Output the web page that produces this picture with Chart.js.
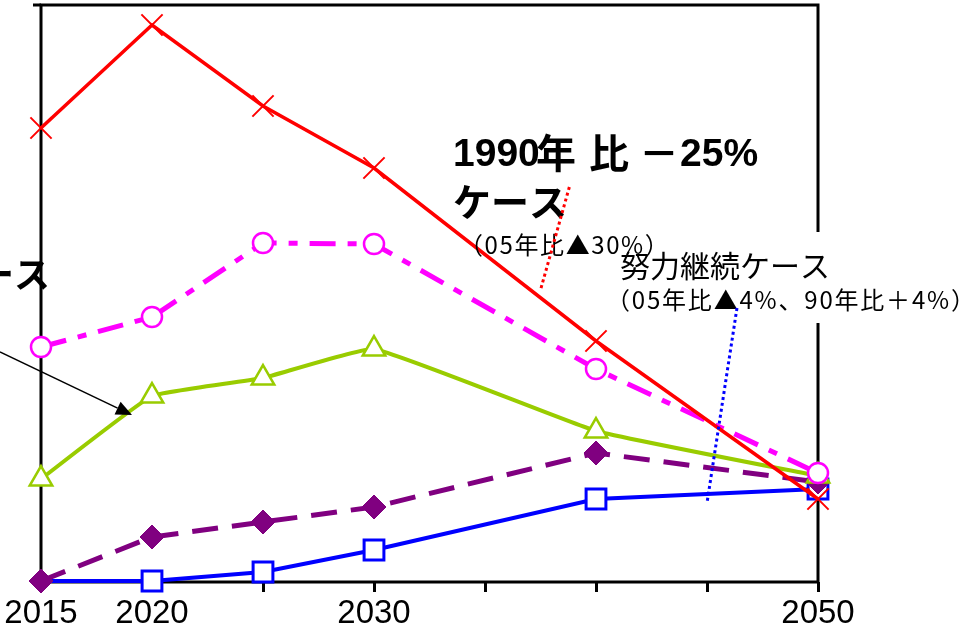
<!DOCTYPE html>
<html><head><meta charset="utf-8">
<script src="https://cdn.jsdelivr.net/npm/chart.js@4/dist/chart.umd.min.js"></script>
<style>html,body{margin:0;padding:0;background:#fff;overflow:hidden}#wrap{width:967px;height:630px;position:relative}</style>
</head><body><div id="wrap"><canvas id="c" width="967" height="630"></canvas></div>
<script>
// ---- data (arbitrary index units) ----
const years = [2015, 2020, 2025, 2030, 2040, 2050];
const tickLabels = ['2015', '2020', '2030', '2050'];
const caseMinus25 = [454, 557, 476, 414, 241, 83];   // 1990年比－25%ケース (red ×)
const caseCircle  = [235, 265, 339, 338, 213, 109];  // magenta ○
const caseTriangle = [103, 186, 204, 233, 151, 106]; // green △
const caseDiamond = [1, 45, 60, 75, 129, 100];       // purple ◆
const caseEffort  = [1, 1, 10, 32, 83, 93];          // 努力継続ケース (blue □)

const toXY = arr => arr.map((v, i) => ({ x: years[i], y: v }));

const framePlugin = {
  id: 'frame',
  beforeDatasetsDraw(chart) {
    const { ctx, chartArea: a } = chart;
    ctx.save();
    ctx.strokeStyle = '#000';
    ctx.lineWidth = 3;
    ctx.strokeRect(a.left, a.top, a.right - a.left, a.bottom - a.top);
    ctx.beginPath(); ctx.moveTo(a.left - 8, a.top); ctx.lineTo(a.left, a.top); ctx.stroke();
    ctx.restore();
  }
};

const annotPlugin = {
  id: 'annot',
  afterDatasetsDraw(chart) {
    const { ctx } = chart;
    const xs = chart.scales.x, ys = chart.scales.y;
    const P = (yr, v) => [xs.getPixelForValue(yr), ys.getPixelForValue(v)];
    ctx.save();
    // white background of the 努力継続 text box
    ctx.fillStyle = '#fff';
    ctx.fillRect(615, 232, 352, 91);

    ctx.fillStyle = '#000';
    ctx.textBaseline = 'alphabetic';
    ctx.textAlign = 'left';
    // 1990年比－25%ケース
    ctx.font = 'bold 39px "Liberation Sans", "Noto Sans CJK JP"';
    ctx.fillText('1990', 453, 166);
    ctx.font = 'bold 40px "Noto Sans CJK JP"';
    ctx.fillText('年', 536, 168);
    ctx.fillText('比', 589, 168);
    ctx.fillText('－', 639, 168);
    ctx.font = 'bold 39px "Liberation Sans", "Noto Sans CJK JP"';
    ctx.fillText('25%', 680, 166);
    ctx.font = 'bold 38px "Noto Sans CJK JP"';
    ctx.fillText('ケース', 453, 216);
    ctx.font = '24px "Noto Sans CJK JP"';
    ctx.letterSpacing = '1.6px';
    ctx.fillText('（05年比▲30%）', 459, 254);
    // 努力継続ケース
    ctx.letterSpacing = '0px';
    ctx.font = '30px "Noto Sans CJK JP"';
    ctx.fillText('努力継続ケース', 620, 277);
    ctx.font = '24px "Noto Sans CJK JP"';
    ctx.letterSpacing = '1.8px';
    ctx.fillText('（05年比▲4%、90年比＋4%）', 606, 309);
    ctx.letterSpacing = '0px';
    // left cut label
    ctx.font = 'bold 36px "Noto Sans CJK JP"';
    ctx.textAlign = 'right';
    ctx.fillText('ケース', 50, 288);

    // dotted leader lines
    ctx.lineWidth = 3;
    ctx.setLineDash([3, 3]);
    let a = P(2038.8, 395), b = P(2037.5, 292);
    ctx.strokeStyle = '#FF0000';
    ctx.beginPath(); ctx.moveTo(a[0], a[1]); ctx.lineTo(b[0], b[1]); ctx.stroke();
    a = P(2046.35, 274); b = P(2045.0, 79);
    ctx.strokeStyle = '#0000FF';
    ctx.beginPath(); ctx.moveTo(a[0], a[1]); ctx.lineTo(b[0], b[1]); ctx.stroke();
    ctx.setLineDash([]);

    // arrow
    const t = P(2013.15, 230), h = P(2019.1, 167);
    const dx = h[0] - t[0], dy = h[1] - t[1], L = Math.hypot(dx, dy);
    const ux = dx / L, uy = dy / L, hl = 16, hw = 7;
    const bx = h[0] - ux * hl, by = h[1] - uy * hl;
    ctx.strokeStyle = '#000';
    ctx.lineWidth = 1.5;
    ctx.beginPath(); ctx.moveTo(t[0], t[1]); ctx.lineTo(bx, by); ctx.stroke();
    ctx.fillStyle = '#000';
    ctx.beginPath();
    ctx.moveTo(h[0], h[1]);
    ctx.lineTo(bx - uy * hw, by + ux * hw);
    ctx.lineTo(bx + uy * hw, by - ux * hw);
    ctx.closePath(); ctx.fill();
    ctx.restore();
  }
};

new Chart(document.getElementById('c').getContext('2d'), {
  type: 'line',
  data: {
    datasets: [
      { label: '1990年比－25%ケース', data: toXY(caseMinus25), borderColor: '#FF0000', borderWidth: 3.5,
        pointStyle: 'crossRot', pointRadius: 15, pointBorderWidth: 2, pointBorderColor: '#FF0000',
        pointBackgroundColor: '#FF0000', tension: 0, clip: false },
      { label: 'ケースB', data: toXY(caseCircle), borderColor: '#FF00FF', borderWidth: 5,
        borderDash: [26, 12, 9, 12], pointStyle: 'circle', pointRadius: 10, pointBorderWidth: 2.5,
        pointBorderColor: '#FF00FF', pointBackgroundColor: '#FFFFFF', tension: 0, clip: false },
      { label: 'ケースC', data: toXY(caseTriangle), borderColor: '#99CC00', borderWidth: 4,
        pointStyle: 'triangle', pointRadius: 13, pointBorderWidth: 2.5, pointBorderColor: '#99CC00',
        pointBackgroundColor: '#FFFFFF', tension: 0.1, clip: false },
      { label: 'ケースD', data: toXY(caseDiamond), borderColor: '#800080', borderWidth: 5,
        borderDash: [26, 14], pointStyle: 'rectRot', pointRadius: 12, pointBorderWidth: 1,
        pointBorderColor: '#800080', pointBackgroundColor: '#800080', tension: 0, clip: false },
      { label: '努力継続ケース', data: toXY(caseEffort), borderColor: '#0000FF', borderWidth: 4,
        pointStyle: 'rect', pointRadius: [0, 14, 14, 14, 14, 14], pointBorderWidth: 3, pointBorderColor: '#0000FF',
        pointBackgroundColor: '#FFFFFF', tension: 0, clip: false }
    ]
  },
  options: {
    responsive: false, animation: false, events: [],
    layout: { autoPadding: false, padding: { left: 41, right: 149, top: 5, bottom: 0 } },
    plugins: { legend: { display: false }, tooltip: { enabled: false } },
    scales: {
      x: {
        type: 'linear', min: 2015, max: 2050,
        ticks: {
          stepSize: 5, autoSkip: false, maxRotation: 0, padding: 2, color: '#000',
          font: { family: '"Liberation Sans", Arial, sans-serif', size: 33 },
          callback: v => tickLabels.includes(String(v)) ? String(v) : ''
        },
        grid: { drawOnChartArea: false, drawTicks: true, tickLength: 10, color: '#000', lineWidth: 3 },
        border: { display: false },
        afterFit: s => { s.height = 48; }
      },
      y: { display: false, min: 0, max: 577 }
    }
  },
  plugins: [framePlugin, annotPlugin]
});
</script>
</body></html>
